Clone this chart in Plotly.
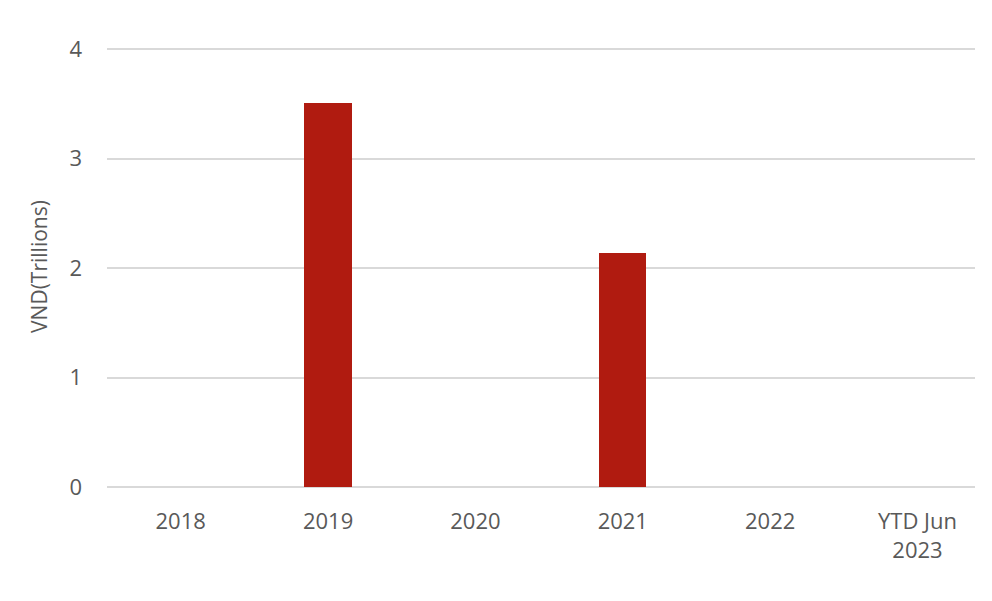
import plotly.graph_objects as go

categories = ["2018", "2019", "2020", "2021", "2022", "YTD Jun<br>2023"]
values = [0, 3.51, 0, 2.14, 0, 0]
y_ticks = [0, 1, 2, 3, 4]

fig = go.Figure(go.Bar(
    x=categories, y=values,
    marker=dict(color="#B01B10", line=dict(width=0)),
    width=0.32,
))

fig.update_layout(
    width=992, height=601,
    margin=dict(l=107, r=17, t=46, b=114),
    paper_bgcolor="white", plot_bgcolor="white",
    font=dict(family="Open Sans, Liberation Sans, sans-serif", size=22, color="#595959"),
    showlegend=False,
    bargap=0,
)
fig.update_xaxes(
    range=[-0.5, 5.39],
    showgrid=False, showline=False, zeroline=False, automargin=False,
    ticks="", ticklabelstandoff=19,
    tickfont=dict(size=22, color="#595959"),
)
fig.update_yaxes(
    range=[0, 4.03], tickvals=y_ticks, automargin=False,
    showgrid=True, gridcolor="#D9D9D9", gridwidth=2,
    zeroline=True, zerolinecolor="#D9D9D9", zerolinewidth=2,
    showline=False, ticks="", ticklabelstandoff=24,
    tickfont=dict(size=22, color="#595959"),
    title=dict(text="VND(Trillions)", font=dict(size=21, color="#595959"), standoff=16),
)

fig.write_html(
    "out.html",
    config={"displayModeBar": False},
    post_script="document.body.style.margin='0';document.body.style.overflow='hidden';",
)
